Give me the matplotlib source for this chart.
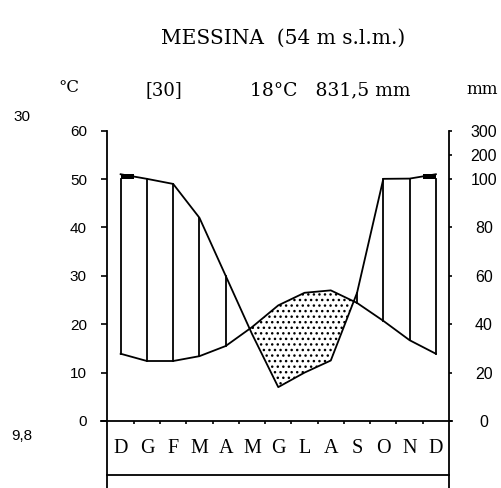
import matplotlib
matplotlib.use("Agg")
import matplotlib.pyplot as plt
import numpy as np

# diagramma di Walter-Lieth, Messina
months = ["D", "G", "F", "M", "A", "M", "G", "L", "A", "S", "O", "N", "D"]
temp = np.array([13.9, 12.4, 12.4, 13.4, 15.5, 19.4, 23.9, 26.5, 27.0, 24.4, 20.7, 16.7, 13.9])
prec = np.array([120, 101, 98, 84, 60, 36, 14, 20, 25, 53, 101, 102, 120])

left_ticks = [0, 10, 20, 30, 40, 50, 60]
right_pos = [0, 10, 20, 30, 40, 50, 55, 60]
right_labels = ["0", "20", "40", "60", "80", "100", "200", "300"]

# mm -> scala dei gradi (1:2 fino a 100 mm, poi ridotta di 10)
pc = np.where(prec <= 100, prec / 2.0, 50 + (prec - 100) / 20.0)
x = np.arange(len(months))

W, H = 502, 488
fig = plt.figure(figsize=(W / 100, H / 100), dpi=100)
ax = fig.add_axes([107.5 / W, (H - 421) / H, 341.5 / W, (421 - 130.7) / H])
ax.set_xlim(-0.5, 12.5)
ax.set_ylim(0, 60)
for s in ax.spines.values():
    s.set_visible(False)

serif = "Liberation Serif"
head = "DejaVu Serif"
sans = "Liberation Sans"

# periodo arido: puntinato
ax.fill_between(x, pc, temp, where=temp > pc, interpolate=True,
                facecolor="white", edgecolor="black", hatch="...", linewidth=0)
# periodo umido: linee verticali
for xi, t, p in zip(x, temp, pc):
    if p > t:
        ax.plot([xi, xi], [t, min(p, 50)], color="black", lw=1.3)
# oltre 100 mm: nero
ax.fill_between(x, 50, pc, where=pc > 50, step="mid", color="black", linewidth=0)

ax.plot(x, temp, color="black", lw=1.3)
ax.plot(x, pc, color="black", lw=1.3)

# cornice
ax.plot([-0.5, -0.5], [60, -14], color="black", lw=1.3, clip_on=False)
ax.plot([12.5, 12.5], [60, -14], color="black", lw=1.3, clip_on=False)
ax.plot([-0.73, 12.63], [0, 0], color="black", lw=1.3, clip_on=False)
ax.plot([-0.5, 12.5], [-11.2, -11.2], color="black", lw=1.3, clip_on=False)

ax.set_xticks(np.arange(0.5, 12, 1))
ax.tick_params(axis="x", direction="out", length=2.5, width=1.2, labelbottom=False)
ax.set_yticks(left_ticks)
ax.set_yticklabels([str(v) for v in left_ticks], fontfamily=sans, fontsize=11)
ax.tick_params(axis="y", direction="out", length=4.3, width=1.2, pad=10.5)

ax2 = ax.twinx()
ax2.set_ylim(0, 60)
for s in ax2.spines.values():
    s.set_visible(False)
ax2.set_yticks(right_pos)
ax2.set_yticklabels(right_labels, fontfamily=sans, fontsize=11.5)
ax2.tick_params(axis="y", direction="out", length=2.5, width=1.2, pad=22.5)
for lab in ax2.get_yticklabels():
    lab.set_horizontalalignment("center")

for xi, m in zip(x, months):
    ax.text(xi, -5.6, m, ha="center", va="center", fontfamily=serif, fontsize=14.5)

def fx(px):
    return px / W

def fy(py):
    return 1 - py / H

fig.text(fx(283), fy(38), "MESSINA  (54 m s.l.m.)", ha="center", va="center",
         fontfamily=head, fontsize=14.5)
fig.text(fx(69), fy(88), "°C", ha="center", va="center", fontfamily=head, fontsize=12)
fig.text(fx(164), fy(90), "[30]", ha="center", va="center", fontfamily=head, fontsize=13)
fig.text(fx(330), fy(90), "18°C   831,5 mm", ha="center", va="center",
         fontfamily=head, fontsize=13.5)
fig.text(fx(482), fy(90), "mm", ha="center", va="center", fontfamily=head, fontsize=12)
fig.text(fx(22), fy(117), "30", ha="center", va="center", fontfamily=sans, fontsize=11)
fig.text(fx(22), fy(436), "9,8", ha="center", va="center", fontfamily=sans, fontsize=11)

fig.savefig("out.png", dpi=100)
